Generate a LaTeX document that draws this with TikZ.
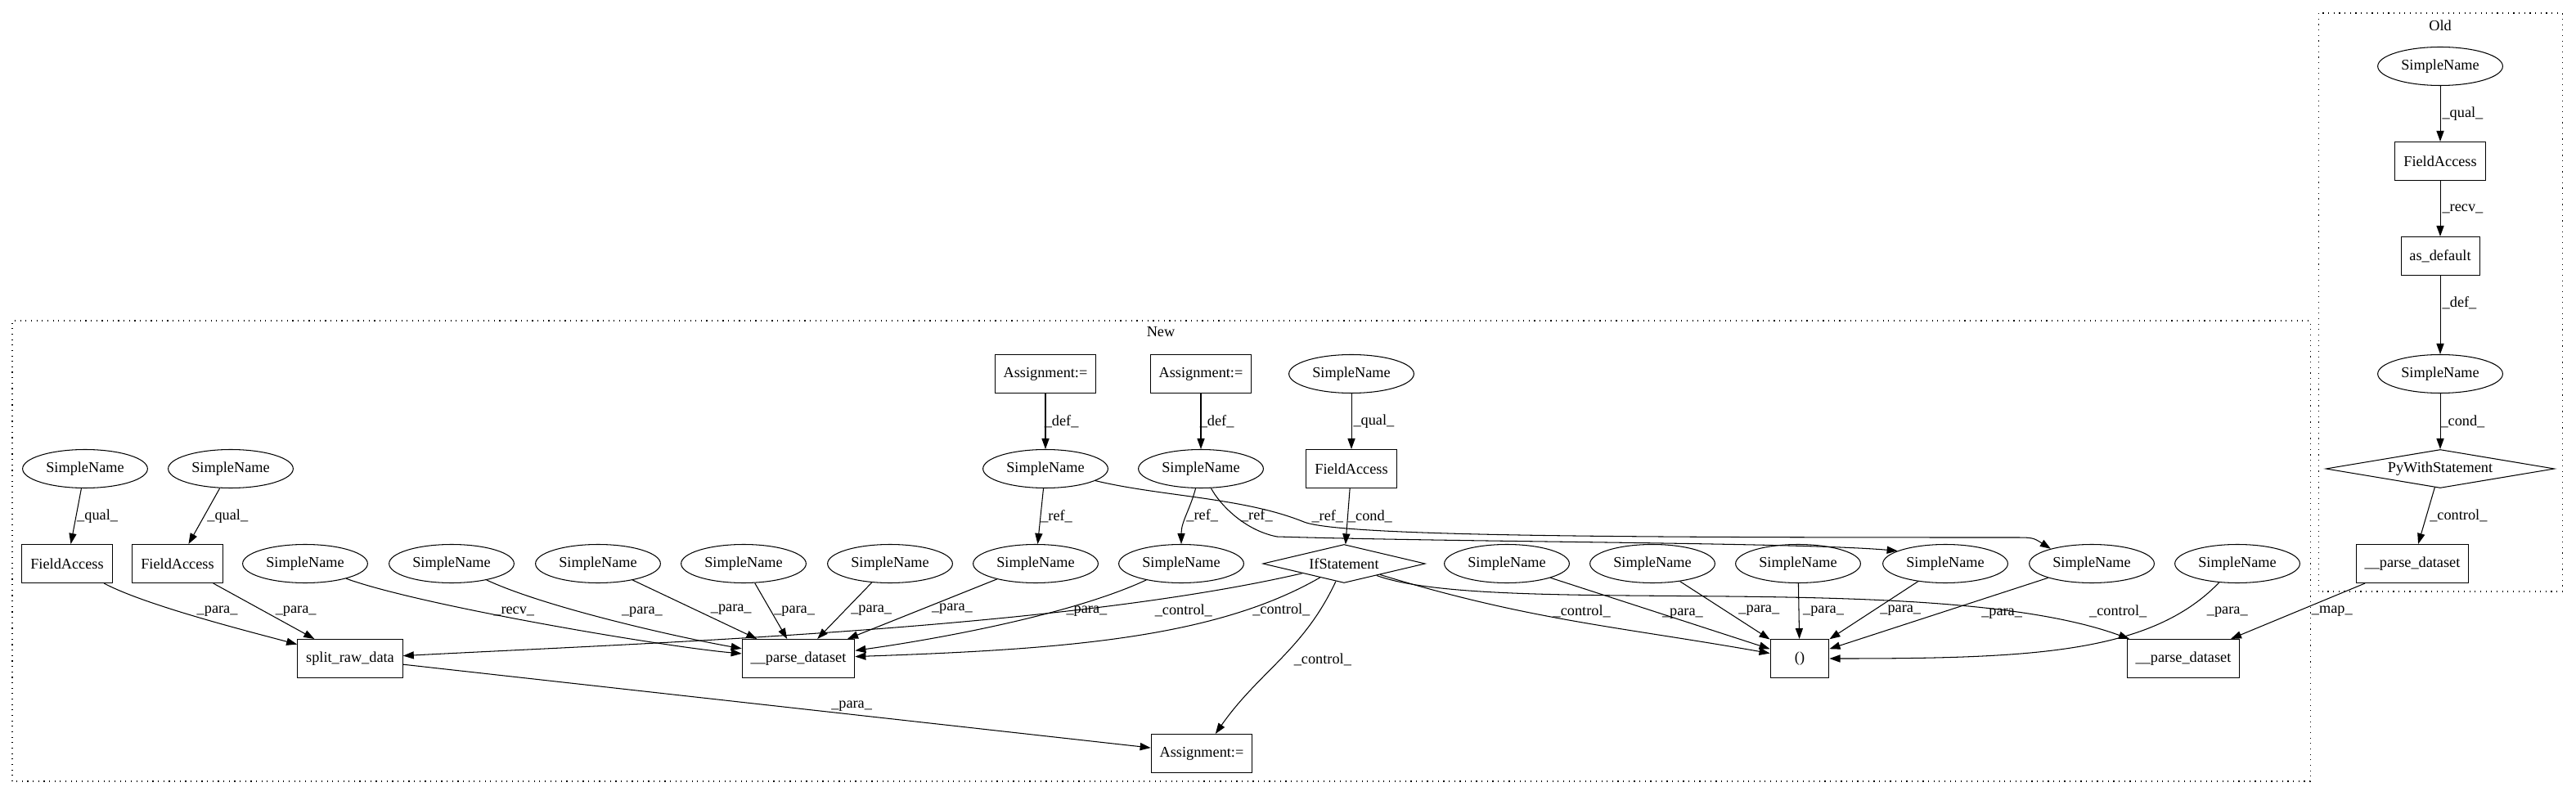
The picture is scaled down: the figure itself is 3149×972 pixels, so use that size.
\documentclass[tikz,border=0pt]{standalone}
\usepackage{fontspec}
\setmainfont{Liberation Serif}
\usetikzlibrary{arrows.meta,shapes.geometric}
\newcommand{\gvfont}{\fontsize{14}{16}\selectfont}
\tikzstyle{empty-node}=[font=\gvfont]
\tikzstyle{name-node}=[ellipse,draw,thick,minimum width=117pt,minimum height=36pt,inner sep=0pt,font=\gvfont]
\tikzstyle{box-node}=[rectangle,draw,thick,minimum width=55pt,minimum height=36pt,inner xsep=8pt,font=\gvfont]
\tikzstyle{cond-node}=[diamond,draw,thick,aspect=5,inner sep=0pt,minimum height=36pt,font=\gvfont]
\tikzstyle{edge-label}=[font=\gvfont,inner sep=1pt]
\tikzstyle{black-line}=[draw=black,thick]
\tikzstyle{cluster-line}=[draw=black,thick,dash pattern=on 0.9pt off 4.2pt]

\begin{document}
\begin{tikzpicture}[x=0.766pt,y=0.766pt]
        \path[use as bounding box,fill=white] (0,0) rectangle (3149,972);
        \draw[cluster-line] (15,17) rectangle (2824,580);
        \draw[cluster-line] (2834,249) rectangle (3132,956);

        \begin{scope}
            \node (lold)[empty-node] at (2983,941) {Old};
            \node (o1)[name-node] at (2983,891) {SimpleName};
            \node (ofa)[box-node] at (2983,775) {FieldAccess};
            \node (oas)[box-node] at (2983,659) {as\_default};
            \node (o2)[name-node] at (2983,515) {SimpleName};
            \node (opw)[cond-node,minimum width=214pt] at (2983,399) {PyWithStatement};
            \node (opd)[box-node] at (2949,283) {\_\_parse\_dataset};

            \node (lnew)[empty-node] at (1419,566) {New};
            \node (a1)[box-node] at (1278,515) {Assignment:=};
            \node (a2)[box-node] at (1468,515) {Assignment:=};
            \node (t)[name-node] at (1652,515) {SimpleName};
            \node (q1)[name-node] at (104,399) {SimpleName};
            \node (q2)[name-node] at (282,399) {SimpleName};
            \node (d1)[name-node] at (1278,399) {SimpleName};
            \node (d2)[name-node] at (1468,399) {SimpleName};
            \node (fa3)[box-node] at (1652,399) {FieldAccess};
            \node (fa1)[box-node] at (82,283) {FieldAccess};
            \node (fa2)[box-node] at (217,283) {FieldAccess};
            \node (p1)[name-node] at (373,283) {SimpleName};
            \node (p2)[name-node] at (552,283) {SimpleName};
            \node (p3)[name-node] at (731,283) {SimpleName};
            \node (p4)[name-node] at (909,283) {SimpleName};
            \node (p5)[name-node] at (1088,283) {SimpleName};
            \node (p6)[name-node] at (1266,283) {SimpleName};
            \node (p7)[name-node] at (1444,283) {SimpleName};
            \node (ifs)[cond-node,minimum width=152pt] at (1643,283) {IfStatement};
            \node (r1)[name-node] at (1842,283) {SimpleName};
            \node (r2)[name-node] at (2020,283) {SimpleName};
            \node (r3)[name-node] at (2198,283) {SimpleName};
            \node (r4)[name-node] at (2378,283) {SimpleName};
            \node (r5)[name-node] at (2557,283) {SimpleName};
            \node (r6)[name-node] at (2735,283) {SimpleName};
            \node (srd)[box-node] at (428,167) {split\_raw\_data};
            \node (pd1)[box-node] at (976,167) {\_\_parse\_dataset};
            \node (call)[box-node] at (2200,167) {()};
            \node (pd2)[box-node] at (2669,167) {\_\_parse\_dataset};
            \node (a3)[box-node] at (1469,51) {Assignment:=};
        \end{scope}

        \begin{scope}[>={Triangle[black,length=10pt,width=7pt]}, every edge/.style=black-line]
            \path [->] (o1) edge node[edge-label, xshift=21pt] {\_qual\_} (ofa);
            \path [->] (ofa) edge node[edge-label, xshift=21pt] {\_recv\_} (oas);
            \path [->] (oas) edge node[edge-label, xshift=18pt, yshift=11pt] {\_def\_} (o2);
            \path [->] (o2) edge node[edge-label, xshift=21pt] {\_cond\_} (opw);
            \path [->] (opw) edge node[edge-label, xshift=30pt] {\_control\_} (opd);
            \path [->] (opd) edge node[edge-label, xshift=32pt] {\_map\_} (pd2);

            \path [->] (q1) edge node[edge-label, xshift=20pt] {\_qual\_} (fa1);
            \path [->] (q2) edge node[edge-label, xshift=22pt] {\_qual\_} (fa2);
            \path [->] (fa1) edge[out=-28, in=165, looseness=0.6] node[edge-label, xshift=17pt, yshift=6pt] {\_para\_} (srd);
            \path [->] (fa2) edge node[edge-label, xshift=30pt] {\_para\_} (srd);
            \path [->] (p1) edge[out=-20, in=175, looseness=0.5] node[edge-label, pos=0.4, xshift=18pt, yshift=3pt] {\_recv\_} (pd1);
            \path [->] (p2) edge[out=-25, in=170, looseness=0.63] node[edge-label, xshift=28pt, yshift=8pt] {\_para\_} (pd1);
            \path [->] (p3) edge node[edge-label, xshift=34pt] {\_para\_} (pd1);
            \path [->] (p4) edge node[edge-label, xshift=22pt] {\_para\_} (pd1);
            \path [->] (p5) edge node[edge-label, xshift=25pt] {\_para\_} (pd1);
            \path [->] (p6) edge node[edge-label, xshift=28pt] {\_para\_} (pd1);
            \path [->] (p7) edge[out=-155, in=8, looseness=0.7] node[edge-label, pos=0.2, xshift=-8pt, yshift=-11pt] {\_para\_} (pd1);
            \path [->] (a1) edge node[edge-label, xshift=15pt] {\_def\_} (d1);
            \path [->] (a2) edge node[edge-label, xshift=15pt] {\_def\_} (d2);
            \path [->] (t) edge node[edge-label, xshift=21pt] {\_qual\_} (fa3);
            \path [->] (d1) edge node[edge-label, xshift=15pt] {\_ref\_} (p6);
            \path [->] (d2) edge[out=-105, in=90] node[edge-label, xshift=15pt] {\_ref\_} (p7);
            \path [->] (fa3) edge node[edge-label, xshift=21pt] {\_cond\_} (ifs);
            \path [->] (ifs) edge[out=-167, in=3, looseness=0.7] node[edge-label, pos=0.15, yshift=-14pt] {\_control\_} (srd);
            \path [->] (ifs) edge[out=-150, in=2, out distance=115pt, in distance=191pt] node[edge-label, pos=0.1, xshift=-5pt, yshift=-14pt] {\_control\_} (pd1);
            \path [->] (ifs) edge[out=-115, in=55] node[edge-label, xshift=40pt] {\_control\_} (a3);
            \path [->] (ifs) edge[out=-17, in=170] node[edge-label, xshift=8pt, yshift=9pt] {\_control\_} (call);
            \path [->] (ifs) edge[out=-20, in=160, out distance=115pt, in distance=191pt] node[edge-label, pos=0.95, xshift=18pt, yshift=17pt] {\_control\_} (pd2);
            \path [->] (r1) edge node[edge-label, xshift=21pt] {\_para\_} (call);
            \path [->] (r2) edge node[edge-label, xshift=32pt] {\_para\_} (call);
            \path [->] (r3) edge node[edge-label, xshift=23pt] {\_para\_} (call);
            \path [->] (r4) edge node[edge-label, xshift=25pt] {\_para\_} (call);
            \path [->] (r5) edge node[edge-label, xshift=59pt] {\_para\_} (call);
            \path [->] (r6) edge[out=-134, in=0, out distance=92pt, in distance=191pt] node[edge-label, pos=0.13, xshift=35pt, yshift=-5pt] {\_para\_} (call);
            \path [->] (srd) edge node[edge-label, pos=0.6, yshift=8pt] {\_para\_} (a3);

            % long _ref_ links run above the IfStatement
            \draw [->, black-line] (d2) .. controls (1490,357) and (1520,324) .. node[edge-label, xshift=21pt] {\_ref\_} (1561,316)
                .. controls (1800,309) and (2200,309) .. (r4.165);
            \draw [->, black-line] (d1) .. controls (1420,365) and (1520,364) .. (1594,334)
                .. controls (1640,316) and (2000,315) .. node[edge-label, pos=0.05, xshift=15pt, yshift=7pt] {\_ref\_} (2460,315)
                .. controls (2485,315) .. (r5.160);
        \end{scope}

    \end{tikzpicture}
\end{document}
